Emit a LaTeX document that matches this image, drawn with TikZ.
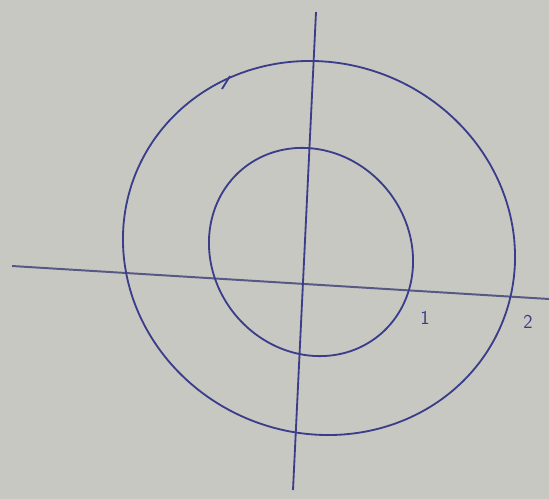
\documentclass[tikz,border=0pt]{standalone}
\usepackage{tikz}
\usetikzlibrary{positioning}
\definecolor{ink}{HTML}{3A3D8A}
\definecolor{paper}{HTML}{C8C8C2}

\begin{document}
\begin{tikzpicture}[x=0.05cm,y=-0.05cm,line width=2.6pt]
                \fill[paper] (0,0) rectangle (549,499);
                \useasboundingbox (0,0) rectangle (549,499);
                % axes
                \draw[ink!60!gray, line width=2.8pt] (12,266) -- (549,299);
                \draw[ink] (316,12) -- (293,490);
                % inner curve
                \draw[ink] plot[domain=0:360, samples=90, smooth cycle, variable=\t]
                    ({311 + 102*cos(\t) + 4*sin(\t)}, {252 + 104*sin(\t) + 5*cos(\t)});
                % outer curve
                \draw[ink] plot[domain=0:360, samples=90, smooth cycle, variable=\t]
                    ({319 + 196*cos(\t) + 5*sin(\t)}, {248 + 187*sin(\t) + 4*cos(\t)});
                \draw[ink] (230,76) -- (222,89);
                \node[ink, font=\sffamily\fontsize{28}{28}\selectfont] (one) at (425,318) {1};
                \node[ink, font=\sffamily\fontsize{28}{28}\selectfont] (two) at (528,322) {2};
            \end{tikzpicture}
\end{document}
